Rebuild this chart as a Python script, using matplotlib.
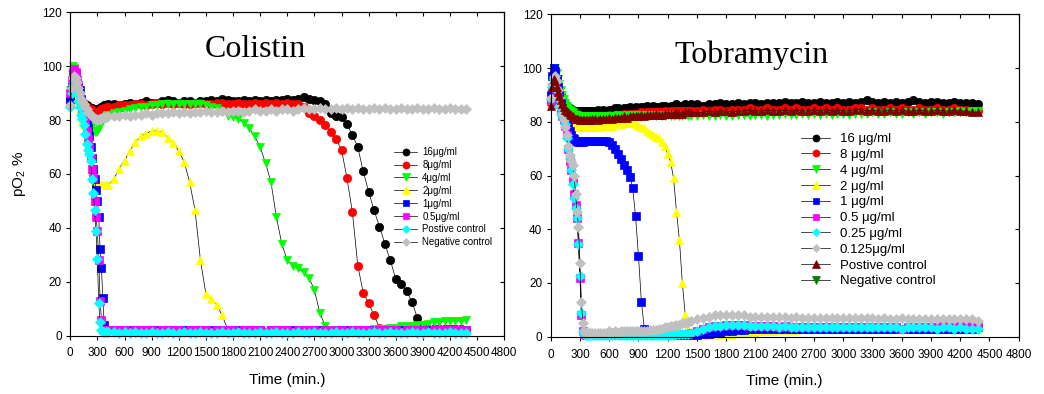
import matplotlib
matplotlib.use('Agg')
import matplotlib.pyplot as plt

plt.rcParams['font.family'] = ['Liberation Sans', 'DejaVu Sans']
plt.rcParams['mathtext.default'] = 'regular'

# sampling times (min.)
t_col = list(range(0, 421, 15)) + list(range(480, 4381, 60))
t_tob = list(range(0, 421, 15)) + list(range(450, 1441, 30)) + list(range(1500, 4381, 60))

# ---------------- Colistin (pO2 %) ----------------
col_16 = [88, 93, 96, 97, 95, 93, 91, 89, 88, 87,
          86, 86, 85.5, 85, 85, 84.5, 84.5, 84, 84, 84,
          83.5, 84, 84.5, 85, 85, 85.5, 85.5, 85.5, 86,
          86, 85.5, 86, 86.5, 86, 86.5, 87, 86.5, 86.5, 87,
          87.5, 87, 86.5, 87, 87, 86.5, 87, 87, 87.5, 87,
          88, 87.5, 87, 87, 87.5, 87, 87.5, 87, 87.5, 87,
          87.5, 87.5, 88, 87.5, 88, 88.5, 88, 87.5, 87, 86,
          82.5, 81.5, 81, 78.5, 74.5, 70, 61, 53.5, 46.5, 40.5,
          34, 28, 21, 19, 16.5, 12.5, 6.5, 3, 2.5, 2.5,
          2.5, 2.5, 2.5, 2.5, 2.5, 2]
col_8 = [87, 92, 96, 96.5, 95, 92.5, 90.5, 89, 88, 87,
         86, 85.5, 85, 84.5, 84, 84, 83.5, 83.5, 83, 83,
         83, 83, 83.5, 84, 84, 84.5, 84.5, 85, 85,
         85, 85.5, 85.5, 85.5, 86, 86, 85.5, 86, 86.5, 86,
         86.5, 86, 86.5, 86, 86, 86.5, 86.5, 86, 86, 86.5,
         86.5, 86, 86, 86.5, 86, 86, 86.5, 86, 86.5, 86,
         86.5, 86, 86.5, 86, 86, 85, 82.5, 81.5, 80, 78,
         75.5, 73, 69, 58.5, 46, 26, 16, 12, 7.5, 3,
         2.5, 2.5, 2.5, 2.5, 2.5, 2.5, 2.5, 2.5, 2.5, 2.5,
         2.5, 2.5, 2.5, 2.5, 2.5, 2]
col_4 = [91, 97, 100, 99.5, 97, 94, 91, 89, 87, 85.5,
         84, 83, 82, 81, 80, 79, 77.5, 76, 75.5, 75.5,
         76, 77, 78, 79, 80, 80.5, 81, 82, 82,
         82.5, 83, 83.5, 84, 84.5, 85, 85, 85.5, 85.5, 86,
         86, 86, 86, 86, 86, 86, 86, 85.5, 85, 84.5,
         83, 81.5, 81, 80.5, 79, 77, 74, 70, 64, 57,
         44, 34, 28, 26, 25, 23.5, 21.5, 17, 8.5, 3.5,
         2, 2, 2, 2, 2, 2, 2, 2, 2.5, 2.5,
         2.5, 3, 3, 3.5, 3.5, 3.5, 4, 4, 4.5, 5,
         5, 5.5, 5.5, 5.5, 5.5, 6]
col_2 = [86, 91, 93, 92, 90, 88, 86, 84, 82, 80,
         78, 76, 73.5, 71, 68.5, 66, 63.5, 61, 59, 57.5,
         57, 56.5, 56, 56, 56, 56, 56, 56, 56,
         58, 62, 65, 68.5, 72, 74, 75, 76, 76, 75.5,
         73.5, 71.5, 68.5, 64.5, 57, 46.5, 28, 15.5, 13.5, 11.5,
         7.5, 2.5, 1.5, 1.5, 1.5, 1.5, 1.5, 1.5, 1.5, 1.5,
         1.5, 1.5, 1.5, 1.5, 1.5, 1.5, 1.5, 1.5, 1.5, 1.5,
         1.5, 1.5, 1.5, 1.5, 1.5, 1.5, 1.5, 1.5, 1.5, 1.5,
         1.5, 1.5, 1.5, 1.5, 1.5, 1.5, 1.5, 1.5, 1.5, 1.5,
         1.5, 1.5, 1.5, 1.5, 1.5, 1.5]
col_1 = [87, 92, 97, 98, 97, 95, 93, 91, 88, 86,
         84, 82, 80, 77, 74, 70, 66, 62, 58, 54,
         50, 44, 32, 25, 14, 4, 2, 2, 2,
         2, 2, 1.5, 2, 2, 1.5, 2, 2, 2, 1.5,
         2, 2, 1.5, 2, 2, 2, 1.5, 2, 2, 2,
         1.5, 2, 2, 2, 1.5, 2, 2, 2, 1.5, 2,
         2, 2, 1.5, 2, 2, 2, 1.5, 2, 2, 2,
         1.5, 2, 2, 2, 1.5, 2, 2, 2, 1.5, 2,
         2, 2, 1.5, 2, 2, 2, 1.5, 2, 2, 2,
         1.5, 2, 2, 2, 2, 2]
col_05 = [90, 95, 98, 99, 98, 95, 92, 89, 86, 83,
          81, 79, 76, 73, 70, 66, 62, 58.5, 50, 44,
          39, 28, 13, 6, 2, 2, 2, 2, 2,
          2, 2, 2, 1.5, 2, 2, 2, 2, 1.5, 2,
          2, 2, 2, 1.5, 2, 2, 2, 2, 1.5, 2,
          2, 2, 2, 1.5, 2, 2, 2, 2, 1.5, 2,
          2, 2, 2, 1.5, 2, 2, 2, 2, 1.5, 2,
          2, 2, 2, 1.5, 2, 2, 2, 2, 1.5, 2,
          2, 2, 2, 1.5, 2, 2, 2, 2, 1.5, 2,
          2, 2, 2, 2, 2, 2]
col_pos = [85, 90, 93, 94, 92, 90, 87, 85, 82, 80.5,
           78, 75, 71, 69, 67.5, 65, 58, 53, 46.5, 39,
           28.5, 12, 5, 2, 1.5, 1.5, 1.5, 1.5, 1.5,
           1.5, 1, 1.5, 1, 1.5, 1, 1, 1.5, 1, 1,
           1.5, 1, 1, 1.5, 1, 1, 1.5, 1, 1, 1,
           1.5, 1, 1, 1.5, 1, 1, 1, 1.5, 1, 1,
           1.5, 1, 1, 1, 1.5, 1, 1, 1.5, 1, 1,
           1, 1.5, 1, 1, 1.5, 1, 1, 1, 1.5, 1,
           1, 1.5, 1, 1, 1, 1.5, 1, 1, 1.5, 1,
           1, 1, 1.5, 1, 1, 1]
col_neg = [85.5, 92, 95.5, 96.5, 95.5, 94, 92, 90, 88, 87,
           86, 85, 84, 83, 82.5, 82, 81.5, 81, 80.5, 80.5,
           80, 80.5, 80.5, 80.5, 81, 81, 81, 81, 81.5,
           81.5, 81.5, 82, 81.5, 82, 82, 82.5, 82, 82.5, 82.5,
           82.5, 83, 82.5, 83, 82.5, 83, 83, 83.5, 83, 83,
           83.5, 83, 83.5, 83.5, 83, 83.5, 84, 83.5, 83.5, 84,
           83.5, 84, 84, 83.5, 84, 84.5, 84, 84, 84.5, 84,
           84, 84.5, 84, 84.5, 84, 84.5, 84, 84, 84.5, 84,
           84.5, 84, 84, 84.5, 84, 84, 84.5, 84, 84, 84.5,
           84, 84, 84.5, 84, 84, 84]

# ---------------- Tobramycin (pO2 %) ----------------
tob_16 = [88, 93, 96, 96, 94.5, 93, 91.5, 90, 88.5, 87.5,
          86.5, 86, 85.5, 85, 84.5, 84.5, 84, 84, 84, 84,
          84, 84, 84, 84, 84, 84, 84, 84, 84,
          84, 84.5, 84, 84.5, 84, 84.5, 84.5, 85, 85, 84.5,
          85, 85, 85.5, 85, 85.5, 85, 85.5, 85.5, 86, 85.5,
          86, 85.5, 85.5, 86, 86, 85.5, 86, 86, 86.5, 86,
          86, 86.5, 86, 86.5,
          86.5, 86, 86.5, 86.5, 87, 86.5, 86.5, 87, 86.5, 87,
          87, 86.5, 87, 87, 87, 87.5, 87, 87, 87.5, 87,
          87, 87.5, 87, 87, 87.5, 87, 87.5, 87, 87.5, 88,
          87.5, 87, 87.5, 87, 87.5, 87, 87.5, 88, 87.5, 87,
          87.5, 87.5, 87, 87, 87.5, 87, 87, 87, 86.5]
tob_8 = [87, 93, 96, 95.5, 93.5, 91.5, 90, 88.5, 87, 86,
         85, 84.5, 84, 83.5, 83, 82.5, 82, 82, 81.5, 81.5,
         81.5, 81.5, 81.5, 81.5, 81.5, 81.5, 81.5, 81.5, 82,
         82, 81.5, 82, 82, 82, 82.5, 82, 82.5, 82.5, 82.5,
         83, 82.5, 83, 83, 83, 83, 83.5, 83, 83.5, 83.5,
         83.5, 83.5, 83.5, 83.5, 84, 83.5, 84, 83.5, 84, 84,
         84, 84, 84, 84,
         84, 84.5, 84, 84.5, 84.5, 84, 84.5, 84.5, 84.5, 85,
         84.5, 84.5, 85, 84.5, 84.5, 85, 84.5, 85, 84.5, 84.5,
         85, 84.5, 85, 84.5, 85, 84.5, 84.5, 85, 85, 84.5,
         85, 84.5, 84.5, 85, 84.5, 85, 84.5, 84.5, 85, 84.5,
         84.5, 85, 84.5, 84.5, 85, 84.5, 84.5, 84, 84]
tob_4 = [89, 96, 100, 100, 98, 96, 94, 92, 90, 88.5,
         87, 86, 85, 84.5, 84, 83.5, 83, 82.5, 82.5, 82,
         82, 82, 82, 82, 82, 81.5, 82, 81.5, 82,
         82, 81.5, 82, 82, 81.5, 82, 82, 82, 82.5, 82,
         82, 82.5, 82, 82.5, 82, 82.5, 82.5, 82, 82.5, 82,
         82.5, 82, 82.5, 82, 82, 82.5, 82, 82, 82.5, 82,
         82, 82.5, 82, 82,
         82, 82.5, 82, 82, 82.5, 82, 82, 82.5, 82.5, 82,
         82.5, 82.5, 82, 82.5, 82.5, 83, 82.5, 82.5, 83, 82.5,
         83, 82.5, 83, 82.5, 83, 83, 82.5, 83, 83, 83,
         83.5, 83, 83, 83.5, 83, 83, 83.5, 83, 83.5, 83,
         83.5, 83.5, 83, 83.5, 83.5, 84, 83.5, 84, 84]
tob_2 = [88, 93, 96, 96, 94, 92, 90, 88, 86, 84.5,
         83, 81.5, 80.5, 79.5, 79, 78.5, 78, 78, 78, 78,
         78, 78, 78, 78, 78, 78, 78, 78, 78,
         78, 78, 78, 78.5, 78.5, 78.5, 78.5, 79, 79, 79,
         79.5, 79.5, 79.5, 79.5, 79, 78.5, 78, 77.5, 76.5, 76,
         75, 74.5, 74, 72.5, 71, 68, 65, 59, 46.5, 36,
         20, 8, 3, 1,
         0.5, 0.5, 0.5, 0.5, 1, 1, 1, 1.5, 1.5, 1.5,
         1.5, 2, 2, 2, 2.5, 2.5, 2.5, 2.5, 3, 3,
         3, 3, 3, 3, 3, 3, 3, 3, 3, 3,
         3, 3, 3, 3, 3, 3, 3, 3, 3, 3,
         3, 3, 3, 3, 3, 3, 3, 3, 3]
tob_1 = [90, 97, 100, 99, 96, 93, 90, 87, 85, 83,
         81, 79.5, 78, 76.5, 75, 74, 73.5, 73, 73, 72.5,
         72.5, 72.5, 72.5, 73, 73, 73, 73, 73, 73,
         73, 73, 73, 73, 73, 72.5, 71.5, 70, 68, 66,
         64, 62, 59.5, 55.5, 45, 30, 13, 3, 0.5, 0.5,
         0.5, 0.5, 0.5, 0.5, 0.5, 0.5, 0.5, 0.5, 0.5, 0.5,
         0.5, 0.5, 0.5, 0.5,
         0.5, 1, 1, 1.5, 1.5, 2, 2, 2.5, 2.5, 3,
         3, 3, 3, 3, 3, 3, 3, 3, 3, 3,
         3, 3, 3, 3, 3, 3, 3, 3, 3, 3,
         3, 3, 3, 3, 3, 3, 3, 3, 3, 3,
         3, 3, 3, 3, 3, 3, 3, 3, 3.5]
tob_05 = [88, 93, 96, 95, 92, 89, 86.5, 84, 82, 80.5,
          78.5, 75, 70, 65.5, 62, 58, 53, 49, 44, 35,
          22, 8, 2, 1, 0.5, 0.5, 0.5, 0.5, 0.5,
          0.5, 0.5, 0.5, 0.5, 0.5, 0.5, 0.5, 0.5, 0.5, 0.5,
          0.5, 0.5, 0.5, 0.5, 0.5, 0.5, 0.5, 0.5, 0.5, 0.5,
          0.5, 0.5, 0.5, 0.5, 0.5, 0.5, 0.5, 0.5, 1, 1,
          1, 1, 1, 1.5,
          2, 3, 3.5, 4, 4, 4.5, 4.5, 4.5, 4.5, 4,
          4, 4, 4, 4, 3.5, 4, 3.5, 3.5, 3.5, 3.5,
          3.5, 3.5, 3.5, 3.5, 3.5, 3.5, 3.5, 3.5, 3.5, 3.5,
          3.5, 3.5, 3.5, 3.5, 3.5, 3, 3.5, 3.5, 3.5, 3.5,
          3.5, 3.5, 4, 3.5, 3.5, 4, 3.5, 4, 4]
tob_025 = [88.5, 93, 96, 95, 92, 89, 86, 83, 82, 80.5,
           79, 74, 70, 66, 62, 57, 51.5, 48, 44, 34.5,
           22.5, 9, 2, 1, 0.5, 0.5, 0.5, 0.5, 0.5,
           0.5, 0.5, 0.5, 0.5, 0.5, 0.5, 0.5, 0.5, 0.5, 0.5,
           0.5, 0.5, 0.5, 0.5, 0.5, 0.5, 0.5, 0.5, 0.5, 0.5,
           0.5, 0.5, 0.5, 0.5, 0.5, 0.5, 0.5, 0.5, 1, 1,
           1, 1, 1, 1.5,
           2, 3, 3.5, 4, 4, 4.5, 4.5, 4.5, 4.5, 4,
           4, 4, 4, 4, 3.5, 4, 3.5, 3.5, 3.5, 3.5,
           3.5, 3.5, 3.5, 3.5, 3.5, 3.5, 3.5, 3.5, 3.5, 3.5,
           3.5, 3.5, 3.5, 3.5, 3.5, 3, 3.5, 3.5, 3.5, 3.5,
           3.5, 3, 3.5, 3.5, 3, 3.5, 3, 3, 3]
tob_0125 = [89, 94, 96.5, 97, 95, 92, 89, 86, 83, 81,
            78, 75, 71, 67.5, 65.5, 64, 60, 53, 46.5, 41,
            27.5, 13, 5, 2, 1.5, 1.5, 1.5, 1.5, 1.5,
            1.5, 1.5, 1.5, 1.5, 1.5, 2, 1.5, 2, 1.5, 2,
            2, 2, 2, 2, 2, 2, 2, 2, 2, 2.5,
            2.5, 2.5, 3, 3, 3.5, 3.5, 4, 4, 4.5, 4.5,
            5, 5, 5.5, 6,
            6.5, 7, 7.5, 8, 8, 8, 8, 8, 8, 7.5,
            7.5, 7.5, 7.5, 7.5, 7.5, 7.5, 7, 7.5, 7, 7,
            7, 7, 7, 7, 7, 7, 7, 7, 7, 7,
            7, 6.5, 7, 6.5, 6.5, 7, 6.5, 6.5, 6.5, 6.5,
            6.5, 6.5, 6.5, 6.5, 6.5, 6.5, 6.5, 6.5, 6]
tob_pos = [86, 93, 96, 95, 93, 91, 89.5, 88, 86.5, 85.5,
           84.5, 84, 83.5, 83, 82.5, 82, 81.5, 81, 81, 81,
           80.5, 80.5, 80.5, 80.5, 80.5, 80.5, 80.5, 80.5, 81,
           81, 80.5, 81, 81, 81, 81.5, 81, 81.5, 81.5, 81.5,
           82, 81.5, 82, 82, 82, 82, 82.5, 82, 82.5, 82.5,
           82.5, 83, 82.5, 82.5, 83, 83, 83, 83, 83.5, 83,
           83, 83.5, 83.5, 83.5,
           83.5, 83.5, 84, 83.5, 84, 84, 83.5, 84, 84, 84.5,
           84, 84, 84.5, 84, 84, 84.5, 84, 84.5, 84, 84,
           84.5, 84, 84.5, 84, 84.5, 84, 84, 84.5, 84.5, 84,
           84.5, 84, 84, 84.5, 84, 84.5, 84, 84, 84.5, 84,
           84, 84.5, 84, 84, 84.5, 84, 84, 83.5, 83.5]
tob_neg = [88, 95, 98, 97, 95, 93, 91, 89, 87.5, 86,
           85, 84, 83.5, 83, 82.5, 82, 82, 81.5, 81.5, 81.5,
           81.5, 81.5, 81.5, 81.5, 81.5, 81.5, 81.5, 81.5, 81.5,
           81.5, 81.5, 81.5, 81.5, 81.5, 82, 82, 82, 82, 82,
           82, 82, 82, 82, 82.5, 82.5, 82.5, 82.5, 82.5, 82.5,
           82.5, 82.5, 83, 83, 83, 83, 83, 83, 83, 83,
           83, 83, 83, 83,
           83, 83, 83, 83, 83, 83, 83, 83, 83, 83,
           83, 83, 83, 83, 83.5, 83.5, 83.5, 83.5, 83.5, 83.5,
           83.5, 83.5, 83.5, 83.5, 83.5, 83.5, 83.5, 83.5, 83.5, 83.5,
           83.5, 83.5, 83.5, 83.5, 83.5, 83.5, 83.5, 83.5, 83.5, 83.5,
           83.5, 83.5, 83.5, 83.5, 83.5, 83.5, 83.5, 83.5, 83.5]

col_series = [col_16, col_8, col_4, col_2, col_1, col_05, col_pos, col_neg]
col_labels = ['16μg/ml', '8μg/ml', '4μg/ml', '2μg/ml', '1μg/ml', '0.5μg/ml',
              'Postive control', 'Negative control']
col_marks = [('o', '#000000'), ('o', '#ff0000'), ('v', '#00ff00'), ('^', '#ffff00'),
             ('s', '#0000ff'), ('s', '#ff00ff'), ('D', '#00ffff'), ('D', '#c0c0c0')]

tob_series = [tob_16, tob_8, tob_4, tob_2, tob_1, tob_05, tob_025, tob_0125, tob_pos, tob_neg]
tob_labels = ['16 μg/ml', '8 μg/ml', '4 μg/ml', '2 μg/ml', '1 μg/ml', '0.5 μg/ml',
              '0.25 μg/ml', '0.125μg/ml', 'Postive control', 'Negative control']
tob_marks = [('o', '#000000'), ('o', '#ff0000'), ('v', '#00ff00'), ('^', '#ffff00'),
             ('s', '#0000ff'), ('s', '#ff00ff'), ('D', '#00ffff'), ('D', '#c0c0c0'),
             ('^', '#800000'), ('v', '#008000')]

msize = {'o': 6, 's': 5.4, 'v': 6.4, '^': 6.4, 'D': 4.8}

fig = plt.figure(figsize=(10.44, 3.94), dpi=100)
ax1 = fig.add_axes([0.0673, 0.148, 0.4157, 0.8208])
ax2 = fig.add_axes([0.5275, 0.1454, 0.4483, 0.8183])


def draw(ax, t, series, labels, marks, low_last=False):
    n = len(series)
    for i, (y, lab, (m, c)) in enumerate(zip(series, labels, marks)):
        z = 2
        if low_last and i == n - 1:
            z = 1.5
        ax.plot(t, y, color='black', lw=0.5, marker=m, ms=msize[m],
                mfc=c, mec=c, mew=0.5, label=lab, clip_on=False, zorder=z)
    xt = list(range(0, 4801, 300))
    yt = list(range(0, 121, 20))
    ax.set_xlim(0, 4800)
    ax.set_ylim(0, 120)
    ax.set_xticks(xt)
    ax.set_yticks(yt)
    ax.tick_params(direction='out', length=3, width=0.8, labelsize=8.5, pad=3)
    ax.tick_params(axis='x', pad=5.5)
    for s in ax.spines.values():
        s.set_linewidth(0.8)
    top = ax.secondary_xaxis('top')
    top.set_xticks(xt)
    top.tick_params(direction='in', length=3, width=0.8, labeltop=False)
    right = ax.secondary_yaxis('right')
    right.set_yticks(yt)
    right.tick_params(direction='in', length=3, width=0.8, labelright=False)
    ax.set_xlabel('Time (min.)', fontsize=11, labelpad=10)


draw(ax1, t_col, col_series, col_labels, col_marks)
draw(ax2, t_tob, tob_series, tob_labels, tob_marks, low_last=True)

ax1.set_ylabel('pO$_2$ %', fontsize=11, labelpad=10)

ax1.text(2043, 103.3, 'Colistin', family=['Liberation Serif'], fontsize=23,
         ha='center', va='baseline')
ax2.text(2063, 101.7, 'Tobramycin', family=['Liberation Serif'], fontsize=23,
         ha='center', va='baseline')

ax1.legend(loc='upper left', bbox_to_anchor=(394 / 1044, 1 - 147 / 394),
           bbox_transform=fig.transFigure, frameon=False, fontsize=7,
           handlelength=2.4, handletextpad=0.5, labelspacing=0.3,
           borderpad=0, borderaxespad=0, numpoints=1, markerscale=0.85)
ax2.legend(loc='upper left', bbox_to_anchor=(801 / 1044, 1 - 133 / 394),
           bbox_transform=fig.transFigure, frameon=False, fontsize=9.5,
           handlelength=2.2, handletextpad=0.75, labelspacing=0.27,
           borderpad=0, borderaxespad=0, numpoints=1, markerscale=0.85)

fig.savefig('out.png', dpi=100, facecolor='white')
